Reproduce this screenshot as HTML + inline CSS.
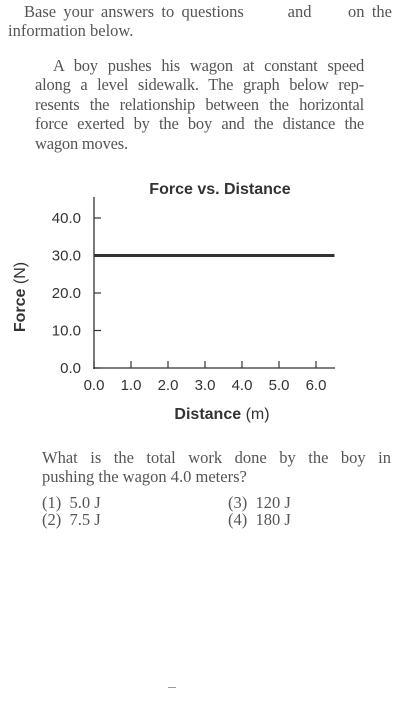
<!DOCTYPE html>
<html><head><meta charset="utf-8">
<style>
body{margin:0;width:405px;height:715px;background:#fff;position:relative;overflow:hidden;font-family:"Liberation Serif",serif;color:#555;}
.t{position:absolute;font-size:16.5px;line-height:19.4px;white-space:nowrap;}
.j{position:absolute;font-size:16.5px;line-height:19.4px;text-align:justify;text-align-last:justify;white-space:nowrap;}
svg text{font-family:"Liberation Sans",sans-serif;}
</style></head><body>
<div class="j" style="left:24px;top:2px;width:368px;white-space:normal">Base your answers to questions &nbsp;&nbsp;&nbsp;&nbsp; and &nbsp;&nbsp;&nbsp; on the</div>
<div class="t" style="left:8px;top:21px;">information below.</div>
<div style="position:absolute;left:35px;top:56px;width:329px;font-size:16.5px;line-height:19.4px;text-align:justify;letter-spacing:-0.2px">
<div style="text-align-last:justify;text-indent:18px">A boy pushes his wagon at constant speed</div>
<div style="text-align-last:justify">along a level sidewalk. The graph below rep-</div>
<div style="text-align-last:justify">resents the relationship between the horizontal</div>
<div style="text-align-last:justify">force exerted by the boy and the distance the</div>
<div>wagon moves.</div>
</div>

<svg id="chart" width="405" height="260" style="position:absolute;left:0;top:170px" viewBox="0 170 405 260"></svg>

<div class="j" style="left:42px;top:448px;width:349px;white-space:normal">What is the total work done by the boy in</div>
<div class="t" style="left:42px;top:467px;">pushing the wagon 4.0 meters?</div>
<div class="t" style="left:42px;top:493px;">(1) &nbsp;5.0 J</div>
<div class="t" style="left:42px;top:510px;">(2) &nbsp;7.5 J</div>
<div class="t" style="left:228px;top:493px;">(3) &nbsp;120 J</div>
<div class="t" style="left:228px;top:510px;">(4) &nbsp;180 J</div>
<div style="position:absolute;left:168px;top:687px;width:8px;height:1px;background:#999"></div>

<script>
const xTicks=[0,1,2,3,4,5,6];
const yTicks=[0,10,20,30,40];
const lineX=[0,6.5];
const lineY=[30,30];
const svg=document.getElementById('chart');
const NS='http://www.w3.org/2000/svg';
const X=v=>94+v*37;
const Y=v=>368-v*3.75;
function mk(tag,attrs,txt){const e=document.createElementNS(NS,tag);for(const k in attrs)e.setAttribute(k,attrs[k]);if(txt!==undefined)e.textContent=txt;svg.appendChild(e);return e;}
let e;
e=mk('text',{x:220,y:194,'text-anchor':'middle','font-size':16,'font-weight':'bold',fill:'#333'},'Force vs. Distance');


e=mk('line',{x1:94,y1:197,x2:94,y2:369,stroke:'#333','stroke-width':1.3});


e=mk('line',{x1:93,y1:368,x2:335,y2:368,stroke:'#333','stroke-width':1.3});


yTicks.forEach(v=>{
 e=mk('line',{x1:94,y1:Y(v),x2:101,y2:Y(v),stroke:'#333','stroke-width':1.2});
 
 
 e=mk('text',{x:81,y:Y(v)+5,'text-anchor':'end','font-size':15,fill:'#333'},v.toFixed(1));
 
 
});
xTicks.forEach(v=>{
 e=mk('line',{x1:X(v),y1:368,x2:X(v),y2:361,stroke:'#333','stroke-width':1.2});
 
 
 e=mk('text',{x:X(v),y:390,'text-anchor':'middle','font-size':15,fill:'#333'},v.toFixed(1));
 
 
});
e=mk('line',{x1:X(lineX[0]),y1:Y(lineY[0]),x2:X(lineX[1]),y2:Y(lineY[1]),stroke:'#333','stroke-width':3});


e=mk('text',{x:222,y:419,'text-anchor':'middle','font-size':16,fill:'#333'});
e.innerHTML='<tspan font-weight="bold">Distance</tspan> (m)';


e=mk('text',{x:25,y:297,'text-anchor':'middle','font-size':16,fill:'#333',transform:'rotate(-90 25 297)'});
e.innerHTML='<tspan font-weight="bold">Force</tspan> (N)';


</script>
</body></html>
